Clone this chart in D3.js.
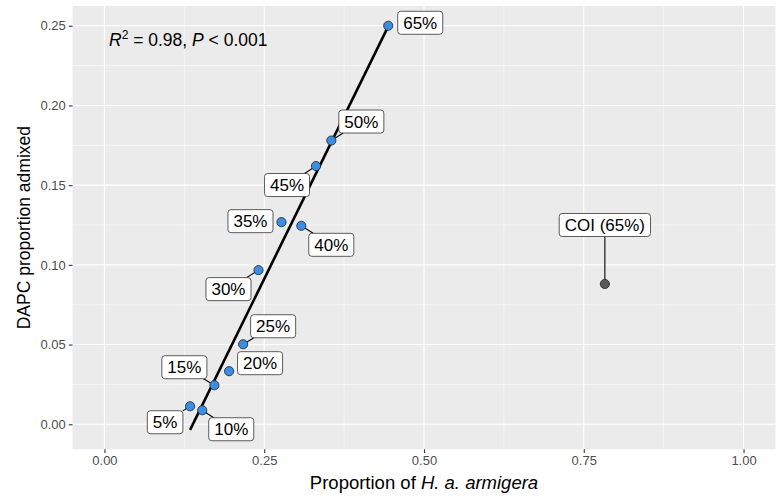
<!DOCTYPE html>
<html>
<head>
<meta charset="utf-8">
<script src="https://cdn.jsdelivr.net/npm/d3@7"></script>
<style>
  body { margin: 0; background: #fff; }
  text { font-family: "Liberation Sans", Arial, Helvetica, sans-serif; }
</style>
</head>
<body>
<div id="chart"></div>
<script>
// simulated mixtures: label, proportion H. a. armigera, DAPC proportion admixed
var mixLabels = ["5%", "10%", "15%", "20%", "25%", "30%", "35%", "40%", "45%", "50%", "65%"];
var propArmigera = [0.134, 0.153, 0.172, 0.195, 0.217, 0.241, 0.277, 0.308, 0.331, 0.355, 0.444];
var dapcAdmixed = [0.0113, 0.0088, 0.0245, 0.0333, 0.0502, 0.0967, 0.1268, 0.1245, 0.1620, 0.1780, 0.2500];

// COI sample
var coiLabel = "COI (65%)";
var coiX = 0.783;
var coiY = 0.088;

var xTicks = [0, 0.25, 0.5, 0.75, 1];
var yTicks = [0, 0.05, 0.1, 0.15, 0.2, 0.25];
var statText = { r2: "0.98", p: "0.001" };

// where ggrepel ended up putting the labels (pixel offset from the point)
var labelNudge = [
  { dx: -25, dy: 16, seg: true },
  { dx: 29, dy: 19, seg: true },
  { dx: -30, dy: -18, seg: true },
  { dx: 31, dy: -8, seg: false },
  { dx: 30, dy: -18, seg: true },
  { dx: -30, dy: 19, seg: true },
  { dx: -31, dy: -1, seg: false },
  { dx: 30, dy: 19, seg: true },
  { dx: -29, dy: 19, seg: true },
  { dx: 30, dy: -19, seg: true },
  { dx: 32, dy: -3, seg: false }
];
var coiNudge = { dx: 0, dy: -59, seg: true };

var W = 783, H = 503;
var panel = { left: 72.5, right: 775.5, top: 6, bottom: 449.3 };

var svg = d3.select("#chart").append("svg")
  .attr("width", W).attr("height", H);

var x = d3.scaleLinear().domain([-0.05, 1.05]).range([panel.left, panel.right]);
var y = d3.scaleLinear().domain([-0.0157, 0.2624]).range([panel.bottom, panel.top]);

// panel background
svg.append("rect")
  .attr("x", panel.left).attr("y", panel.top)
  .attr("width", panel.right - panel.left).attr("height", panel.bottom - panel.top)
  .attr("fill", "#EBEBEB");

// minor grid
var xMinor = [0.125, 0.375, 0.625, 0.875];
var yMinor = [0.025, 0.075, 0.125, 0.175, 0.225];
var grid = svg.append("g");
grid.selectAll(".xminor").data(xMinor).enter().append("line")
  .attr("x1", d => x(d)).attr("x2", d => x(d))
  .attr("y1", panel.top).attr("y2", panel.bottom)
  .attr("stroke", "#fff").attr("stroke-width", 0.55);
grid.selectAll(".yminor").data(yMinor).enter().append("line")
  .attr("y1", d => y(d)).attr("y2", d => y(d))
  .attr("x1", panel.left).attr("x2", panel.right)
  .attr("stroke", "#fff").attr("stroke-width", 0.55);
grid.selectAll(".xmajor").data(xTicks).enter().append("line")
  .attr("x1", d => x(d)).attr("x2", d => x(d))
  .attr("y1", panel.top).attr("y2", panel.bottom)
  .attr("stroke", "#fff").attr("stroke-width", 1.1);
grid.selectAll(".ymajor").data(yTicks).enter().append("line")
  .attr("y1", d => y(d)).attr("y2", d => y(d))
  .attr("x1", panel.left).attr("x2", panel.right)
  .attr("stroke", "#fff").attr("stroke-width", 1.1);

// axes
var xAxis = svg.append("g")
  .attr("transform", "translate(0," + panel.bottom + ")")
  .call(d3.axisBottom(x).tickValues(xTicks).tickFormat(d3.format(".2f")).tickSize(3.7).tickPadding(3));
var yAxis = svg.append("g")
  .attr("transform", "translate(" + panel.left + ",0)")
  .call(d3.axisLeft(y).tickValues(yTicks).tickFormat(d3.format(".2f")).tickSize(3.7).tickPadding(3));
[xAxis, yAxis].forEach(function(a) {
  a.select(".domain").remove();
  a.selectAll(".tick line").attr("stroke", "#333").attr("stroke-width", 1.1);
  a.selectAll(".tick text").attr("fill", "#4D4D4D")
    .style("font-size", "13px");
});

// axis titles
var xTitle = svg.append("text")
  .attr("x", (panel.left + panel.right) / 2).attr("y", 489)
  .attr("text-anchor", "middle")
  .style("font-size", "18.5px");
xTitle.append("tspan").text("Proportion of ");
xTitle.append("tspan").style("font-style", "italic").text("H. a. armigera");

svg.append("text")
  .attr("transform", "translate(30," + ((panel.top + panel.bottom) / 2) + ") rotate(-90)")
  .attr("text-anchor", "middle")
  .style("font-size", "17.5px")
  .text("DAPC proportion admixed");

// linear fit over the mixtures
var pts = mixLabels.map((l, i) => ({ label: l, x: propArmigera[i], y: dapcAdmixed[i], nudge: labelNudge[i] }));
var mx = d3.mean(pts, d => d.x), my = d3.mean(pts, d => d.y);
var slope = d3.sum(pts, d => (d.x - mx) * (d.y - my)) / d3.sum(pts, d => (d.x - mx) * (d.x - mx));
var icpt = my - slope * mx;
var xr = d3.extent(pts, d => d.x);
svg.append("path")
  .datum(xr)
  .attr("fill", "none")
  .attr("stroke", "#000")
  .attr("stroke-width", 2.6)
  .attr("d", d3.line().x(d => x(d)).y(d => y(icpt + slope * d)));

// stat annotation
var stat = svg.append("text")
  .attr("x", 109).attr("y", 46)
  .style("font-size", "17.5px");
stat.append("tspan").style("font-style", "italic").text("R");
stat.append("tspan").attr("dy", -7).style("font-size", "12px").text("2");
stat.append("tspan").attr("dy", 7).text(" = " + statText.r2 + ", ");
stat.append("tspan").style("font-style", "italic").text("P");
stat.append("tspan").text(" < " + statText.p);

var allPts = pts.concat([{ label: coiLabel, x: coiX, y: coiY, nudge: coiNudge, coi: true }]);

var segG = svg.append("g");
var ptG = svg.append("g");
var lblG = svg.append("g");

ptG.selectAll("circle").data(allPts).enter().append("circle")
  .attr("cx", d => x(d.x)).attr("cy", d => y(d.y))
  .attr("r", 4.6)
  .attr("fill", d => d.coi ? "#595959" : "#3B8EE3")
  .attr("stroke", "#222").attr("stroke-width", 0.8);

var boxH = 23, padX = 5.5;
allPts.forEach(function(d) {
  var px = x(d.x), py = y(d.y);
  var cx = px + d.nudge.dx, cy = py + d.nudge.dy;
  var g = lblG.append("g");
  var rect = g.append("rect");
  var t = g.append("text")
    .attr("x", cx).attr("y", cy).attr("dy", "0.36em")
    .attr("text-anchor", "middle")
    .style("font-size", "17px")
    .text(d.label);
  var bw = t.node().getComputedTextLength() + 2 * padX;
  rect.attr("x", cx - bw / 2).attr("y", cy - boxH / 2)
    .attr("width", bw).attr("height", boxH)
    .attr("rx", 3).attr("ry", 3)
    .attr("fill", "#fff").attr("stroke", "#333").attr("stroke-width", 0.8);
  if (d.nudge.seg) {
    // clip the segment at the box edge
    var vx = px - cx, vy = py - cy;
    var tx = vx !== 0 ? (bw / 2) / Math.abs(vx) : Infinity;
    var ty = vy !== 0 ? (boxH / 2) / Math.abs(vy) : Infinity;
    var tt = Math.min(tx, ty);
    segG.append("line")
      .attr("x1", cx + vx * tt).attr("y1", cy + vy * tt)
      .attr("x2", px).attr("y2", py)
      .attr("stroke", "#000").attr("stroke-width", 1.1);
  }
});
</script>
</body>
</html>
